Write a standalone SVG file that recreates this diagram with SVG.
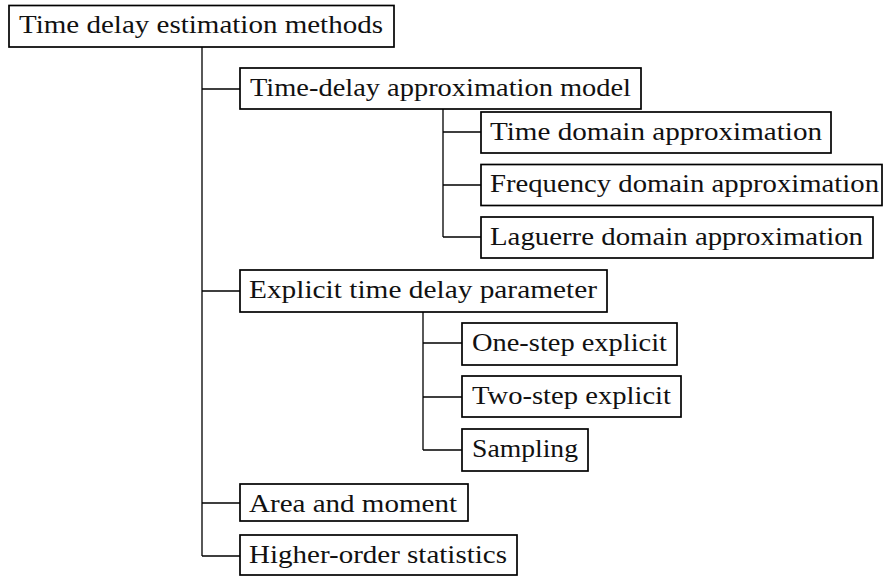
<svg xmlns="http://www.w3.org/2000/svg" width="884" height="576" viewBox="0 0 884 576">
<style>
.box{fill:#fff;stroke:#000;stroke-width:1.7}
.lbl{font-family:'Liberation Serif','Times New Roman',serif;font-size:25px;fill:#111}
.con{fill:none;stroke:#000;stroke-width:1.3}
</style>
<rect width="884" height="576" fill="#fff"/>
<g id="connectors">
<path class="con" d="M202 47V556M202 89H240M202 291H240M202 503H240M202 556H240"/>
<path class="con" d="M443 109V237M443 132H481M443 185H481M443 237H481"/>
<path class="con" d="M423 312V450M423 343H462M423 397H462M423 450H462"/>
</g>
<g id="root"><rect class="box" x="9" y="5.5" width="385" height="41.5"/><text class="lbl" x="19" y="33" textLength="364" lengthAdjust="spacingAndGlyphs">Time delay estimation methods</text></g>
<g id="approx"><rect class="box" x="240" y="68" width="401" height="41"/><text class="lbl" x="250" y="96" textLength="381" lengthAdjust="spacingAndGlyphs">Time-delay approximation model</text></g>
<g id="timedomain"><rect class="box" x="481" y="112" width="350" height="41"/><text class="lbl" x="490" y="140" textLength="332" lengthAdjust="spacingAndGlyphs">Time domain approximation</text></g>
<g id="freqdomain"><rect class="box" x="481" y="164.5" width="401" height="41"/><text class="lbl" x="490" y="192" textLength="389" lengthAdjust="spacingAndGlyphs">Frequency domain approximation</text></g>
<g id="laguerre"><rect class="box" x="481" y="217" width="392" height="41"/><text class="lbl" x="490" y="245" textLength="373" lengthAdjust="spacingAndGlyphs">Laguerre domain approximation</text></g>
<g id="explicit"><rect class="box" x="240" y="270" width="367" height="42"/><text class="lbl" x="249" y="298" textLength="348" lengthAdjust="spacingAndGlyphs">Explicit time delay parameter</text></g>
<g id="onestep"><rect class="box" x="462" y="323" width="215" height="42"/><text class="lbl" x="472" y="351" textLength="195" lengthAdjust="spacingAndGlyphs">One-step explicit</text></g>
<g id="twostep"><rect class="box" x="462" y="376" width="219" height="41"/><text class="lbl" x="472" y="404" textLength="199" lengthAdjust="spacingAndGlyphs">Two-step explicit</text></g>
<g id="sampling"><rect class="box" x="462" y="429" width="126" height="42"/><text class="lbl" x="472" y="457" textLength="106" lengthAdjust="spacingAndGlyphs">Sampling</text></g>
<g id="area"><rect class="box" x="240" y="484" width="228" height="37"/><text class="lbl" x="249" y="512" textLength="208" lengthAdjust="spacingAndGlyphs">Area and moment</text></g>
<g id="higher"><rect class="box" x="240" y="535" width="277" height="40"/><text class="lbl" x="249" y="563" textLength="258" lengthAdjust="spacingAndGlyphs">Higher-order statistics</text></g>
</svg>
